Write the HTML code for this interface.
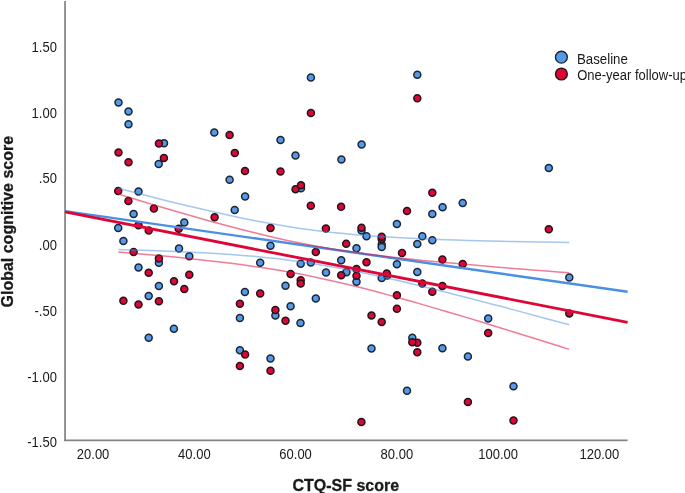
<!DOCTYPE html>
<html><head><meta charset="utf-8"><title>Scatter</title>
<style>
html,body{margin:0;padding:0;background:#fff;}
body{width:685px;height:493px;position:relative;overflow:hidden;font-family:"Liberation Sans",sans-serif;color:#1a1a1a;}
.yl{position:absolute;left:0;width:56.9px;text-align:right;font-size:13px;line-height:15px;height:15px;transform-origin:50% 12px;transform:scale(1,1.14);}
.xl{position:absolute;top:447px;width:60px;text-align:center;font-size:13px;line-height:15px;height:15px;transform-origin:50% 12px;transform:scale(1,1.14);}
.lg{position:absolute;left:577.2px;font-size:13px;line-height:15px;white-space:nowrap;transform-origin:0 12px;transform:scale(1,1.15);}
.xt{position:absolute;left:245.8px;width:200px;text-align:center;top:477px;font-size:16px;font-weight:bold;line-height:18px;white-space:nowrap;transform-origin:50% 3px;transform:scale(1,1.04);-webkit-text-stroke:0.3px #1a1a1a;}
.yt{position:absolute;left:0;top:0;width:200px;height:18px;line-height:18px;text-align:center;font-size:16px;font-weight:bold;white-space:nowrap;transform-origin:0 0;transform:translate(-0.9px,321.7px) rotate(-90deg);-webkit-text-stroke:0.3px #1a1a1a;}
</style></head><body><div id="w" style="position:absolute;left:0;top:0;width:685px;height:493px;will-change:transform;">
<svg width="685" height="493" viewBox="0 0 685 493" style="position:absolute;left:0;top:0">
<g stroke="#1c2633" stroke-width="1.5">
<circle cx="118.5" cy="102.4" r="3.5" fill="#559ae8"/>
<circle cx="128.5" cy="111.4" r="3.5" fill="#559ae8"/>
<circle cx="128.5" cy="124.2" r="3.5" fill="#559ae8"/>
<circle cx="164.0" cy="143.3" r="3.5" fill="#559ae8"/>
<circle cx="158.7" cy="164.1" r="3.5" fill="#559ae8"/>
<circle cx="214.3" cy="132.4" r="3.5" fill="#559ae8"/>
<circle cx="229.6" cy="179.8" r="3.5" fill="#559ae8"/>
<circle cx="310.9" cy="77.5" r="3.5" fill="#559ae8"/>
<circle cx="280.5" cy="140.1" r="3.5" fill="#559ae8"/>
<circle cx="295.5" cy="155.6" r="3.5" fill="#559ae8"/>
<circle cx="341.4" cy="159.6" r="3.5" fill="#559ae8"/>
<circle cx="361.6" cy="144.4" r="3.5" fill="#559ae8"/>
<circle cx="417.3" cy="74.7" r="3.5" fill="#559ae8"/>
<circle cx="548.8" cy="168.1" r="3.5" fill="#559ae8"/>
<circle cx="138.5" cy="191.6" r="3.5" fill="#559ae8"/>
<circle cx="133.6" cy="213.9" r="3.5" fill="#559ae8"/>
<circle cx="118.2" cy="227.9" r="3.5" fill="#559ae8"/>
<circle cx="123.4" cy="241.1" r="3.5" fill="#559ae8"/>
<circle cx="245.1" cy="196.6" r="3.5" fill="#559ae8"/>
<circle cx="234.7" cy="210.0" r="3.5" fill="#559ae8"/>
<circle cx="184.3" cy="222.4" r="3.5" fill="#559ae8"/>
<circle cx="270.5" cy="245.7" r="3.5" fill="#559ae8"/>
<circle cx="179.0" cy="248.4" r="3.5" fill="#559ae8"/>
<circle cx="189.3" cy="256.3" r="3.5" fill="#559ae8"/>
<circle cx="260.2" cy="262.8" r="3.5" fill="#559ae8"/>
<circle cx="301.0" cy="188.3" r="3.5" fill="#559ae8"/>
<circle cx="361.5" cy="230.5" r="3.5" fill="#559ae8"/>
<circle cx="366.5" cy="236.2" r="3.5" fill="#559ae8"/>
<circle cx="381.7" cy="244.4" r="3.5" fill="#559ae8"/>
<circle cx="381.7" cy="247.0" r="3.5" fill="#559ae8"/>
<circle cx="396.9" cy="224.1" r="3.5" fill="#559ae8"/>
<circle cx="356.5" cy="248.3" r="3.5" fill="#559ae8"/>
<circle cx="341.2" cy="260.3" r="3.5" fill="#559ae8"/>
<circle cx="300.7" cy="263.7" r="3.5" fill="#559ae8"/>
<circle cx="310.8" cy="262.5" r="3.5" fill="#559ae8"/>
<circle cx="396.9" cy="264.3" r="3.5" fill="#559ae8"/>
<circle cx="432.3" cy="214.1" r="3.5" fill="#559ae8"/>
<circle cx="442.6" cy="207.3" r="3.5" fill="#559ae8"/>
<circle cx="462.7" cy="203.0" r="3.5" fill="#559ae8"/>
<circle cx="422.3" cy="236.2" r="3.5" fill="#559ae8"/>
<circle cx="432.3" cy="240.2" r="3.5" fill="#559ae8"/>
<circle cx="417.3" cy="243.9" r="3.5" fill="#559ae8"/>
<circle cx="158.9" cy="262.7" r="3.5" fill="#559ae8"/>
<circle cx="138.5" cy="267.6" r="3.5" fill="#559ae8"/>
<circle cx="158.9" cy="286.1" r="3.5" fill="#559ae8"/>
<circle cx="148.7" cy="295.9" r="3.5" fill="#559ae8"/>
<circle cx="173.9" cy="328.7" r="3.5" fill="#559ae8"/>
<circle cx="148.7" cy="337.8" r="3.5" fill="#559ae8"/>
<circle cx="244.9" cy="291.9" r="3.5" fill="#559ae8"/>
<circle cx="239.9" cy="317.9" r="3.5" fill="#559ae8"/>
<circle cx="275.4" cy="315.6" r="3.5" fill="#559ae8"/>
<circle cx="285.5" cy="285.8" r="3.5" fill="#559ae8"/>
<circle cx="290.6" cy="306.3" r="3.5" fill="#559ae8"/>
<circle cx="326.0" cy="272.6" r="3.5" fill="#559ae8"/>
<circle cx="346.4" cy="272.3" r="3.5" fill="#559ae8"/>
<circle cx="356.5" cy="281.8" r="3.5" fill="#559ae8"/>
<circle cx="381.7" cy="277.9" r="3.5" fill="#559ae8"/>
<circle cx="387.2" cy="275.4" r="3.5" fill="#559ae8"/>
<circle cx="315.8" cy="298.6" r="3.5" fill="#559ae8"/>
<circle cx="300.5" cy="323.1" r="3.5" fill="#559ae8"/>
<circle cx="417.3" cy="272.1" r="3.5" fill="#559ae8"/>
<circle cx="488.2" cy="318.4" r="3.5" fill="#559ae8"/>
<circle cx="412.3" cy="337.7" r="3.5" fill="#559ae8"/>
<circle cx="569.3" cy="277.6" r="3.5" fill="#559ae8"/>
<circle cx="239.9" cy="350.3" r="3.5" fill="#559ae8"/>
<circle cx="270.5" cy="358.6" r="3.5" fill="#559ae8"/>
<circle cx="371.5" cy="348.6" r="3.5" fill="#559ae8"/>
<circle cx="442.4" cy="348.3" r="3.5" fill="#559ae8"/>
<circle cx="467.9" cy="356.5" r="3.5" fill="#559ae8"/>
<circle cx="407.0" cy="390.7" r="3.5" fill="#559ae8"/>
<circle cx="513.5" cy="386.2" r="3.5" fill="#559ae8"/>
</g><g stroke="#22141a" stroke-width="1.5">
<circle cx="158.9" cy="143.4" r="3.5" fill="#de0637"/>
<circle cx="118.5" cy="152.6" r="3.5" fill="#de0637"/>
<circle cx="128.5" cy="162.3" r="3.5" fill="#de0637"/>
<circle cx="163.9" cy="157.9" r="3.5" fill="#de0637"/>
<circle cx="229.6" cy="135.1" r="3.5" fill="#de0637"/>
<circle cx="234.8" cy="152.9" r="3.5" fill="#de0637"/>
<circle cx="245.0" cy="171.1" r="3.5" fill="#de0637"/>
<circle cx="310.9" cy="112.9" r="3.5" fill="#de0637"/>
<circle cx="280.5" cy="171.6" r="3.5" fill="#de0637"/>
<circle cx="417.3" cy="98.2" r="3.5" fill="#de0637"/>
<circle cx="118.2" cy="191.0" r="3.5" fill="#de0637"/>
<circle cx="128.4" cy="201.0" r="3.5" fill="#de0637"/>
<circle cx="153.9" cy="208.5" r="3.5" fill="#de0637"/>
<circle cx="138.5" cy="225.3" r="3.5" fill="#de0637"/>
<circle cx="148.7" cy="230.4" r="3.5" fill="#de0637"/>
<circle cx="133.6" cy="252.1" r="3.5" fill="#de0637"/>
<circle cx="158.9" cy="258.4" r="3.5" fill="#de0637"/>
<circle cx="214.6" cy="217.3" r="3.5" fill="#de0637"/>
<circle cx="178.7" cy="228.8" r="3.5" fill="#de0637"/>
<circle cx="270.5" cy="228.1" r="3.5" fill="#de0637"/>
<circle cx="295.5" cy="189.2" r="3.5" fill="#de0637"/>
<circle cx="301.0" cy="185.3" r="3.5" fill="#de0637"/>
<circle cx="310.8" cy="205.8" r="3.5" fill="#de0637"/>
<circle cx="341.1" cy="206.8" r="3.5" fill="#de0637"/>
<circle cx="325.9" cy="228.6" r="3.5" fill="#de0637"/>
<circle cx="361.5" cy="227.7" r="3.5" fill="#de0637"/>
<circle cx="381.7" cy="239.0" r="3.5" fill="#de0637"/>
<circle cx="381.7" cy="236.7" r="3.5" fill="#de0637"/>
<circle cx="346.2" cy="243.7" r="3.5" fill="#de0637"/>
<circle cx="315.8" cy="251.9" r="3.5" fill="#de0637"/>
<circle cx="366.5" cy="262.3" r="3.5" fill="#de0637"/>
<circle cx="402.0" cy="253.1" r="3.5" fill="#de0637"/>
<circle cx="432.3" cy="192.8" r="3.5" fill="#de0637"/>
<circle cx="407.0" cy="211.0" r="3.5" fill="#de0637"/>
<circle cx="442.4" cy="259.4" r="3.5" fill="#de0637"/>
<circle cx="462.7" cy="264.0" r="3.5" fill="#de0637"/>
<circle cx="548.8" cy="229.3" r="3.5" fill="#de0637"/>
<circle cx="148.7" cy="272.8" r="3.5" fill="#de0637"/>
<circle cx="174.0" cy="281.3" r="3.5" fill="#de0637"/>
<circle cx="123.4" cy="300.8" r="3.5" fill="#de0637"/>
<circle cx="138.5" cy="304.6" r="3.5" fill="#de0637"/>
<circle cx="158.9" cy="301.3" r="3.5" fill="#de0637"/>
<circle cx="189.3" cy="274.8" r="3.5" fill="#de0637"/>
<circle cx="184.3" cy="289.0" r="3.5" fill="#de0637"/>
<circle cx="260.2" cy="293.6" r="3.5" fill="#de0637"/>
<circle cx="239.9" cy="303.8" r="3.5" fill="#de0637"/>
<circle cx="275.4" cy="310.1" r="3.5" fill="#de0637"/>
<circle cx="285.5" cy="320.8" r="3.5" fill="#de0637"/>
<circle cx="290.6" cy="274.1" r="3.5" fill="#de0637"/>
<circle cx="300.7" cy="280.3" r="3.5" fill="#de0637"/>
<circle cx="300.7" cy="283.5" r="3.5" fill="#de0637"/>
<circle cx="341.2" cy="275.3" r="3.5" fill="#de0637"/>
<circle cx="356.5" cy="269.1" r="3.5" fill="#de0637"/>
<circle cx="356.5" cy="275.7" r="3.5" fill="#de0637"/>
<circle cx="386.8" cy="273.5" r="3.5" fill="#de0637"/>
<circle cx="396.9" cy="295.3" r="3.5" fill="#de0637"/>
<circle cx="396.9" cy="308.7" r="3.5" fill="#de0637"/>
<circle cx="371.5" cy="315.6" r="3.5" fill="#de0637"/>
<circle cx="381.7" cy="321.9" r="3.5" fill="#de0637"/>
<circle cx="422.3" cy="283.5" r="3.5" fill="#de0637"/>
<circle cx="442.4" cy="286.0" r="3.5" fill="#de0637"/>
<circle cx="432.3" cy="291.8" r="3.5" fill="#de0637"/>
<circle cx="488.2" cy="333.1" r="3.5" fill="#de0637"/>
<circle cx="569.3" cy="313.4" r="3.5" fill="#de0637"/>
<circle cx="245.1" cy="354.5" r="3.5" fill="#de0637"/>
<circle cx="239.9" cy="366.1" r="3.5" fill="#de0637"/>
<circle cx="270.5" cy="370.8" r="3.5" fill="#de0637"/>
<circle cx="417.3" cy="342.8" r="3.5" fill="#de0637"/>
<circle cx="412.3" cy="342.3" r="3.5" fill="#de0637"/>
<circle cx="417.3" cy="352.3" r="3.5" fill="#de0637"/>
<circle cx="467.9" cy="401.9" r="3.5" fill="#de0637"/>
<circle cx="513.5" cy="420.4" r="3.5" fill="#de0637"/>
<circle cx="361.4" cy="422.1" r="3.5" fill="#de0637"/>
</g>
<rect x="64.2" y="1" width="1.7" height="440.2" fill="#828282"/>
<rect x="64.2" y="439.5" width="563.4" height="1.7" fill="#828282"/>
<g fill="none">
<line x1="65.0" y1="211.15" x2="627.6" y2="291.76" stroke="#4a90e2" stroke-width="2.4"/>
<path d="M118.4,188.3 L129.7,191.2 L140.9,194.1 L152.2,197.0 L163.5,199.9 L174.8,202.7 L186.0,205.4 L197.3,208.1 L208.6,210.7 L219.8,213.3 L231.1,215.8 L242.4,218.2 L253.6,220.4 L264.9,222.6 L276.2,224.6 L287.5,226.5 L298.7,228.2 L310.0,229.8 L321.3,231.2 L332.5,232.5 L343.8,233.6 L355.1,234.7 L366.3,235.6 L377.6,236.4 L388.9,237.1 L400.2,237.7 L411.4,238.3 L422.7,238.8 L434.0,239.3 L445.2,239.7 L456.5,240.1 L467.8,240.4 L479.0,240.7 L490.3,241.0 L501.6,241.3 L512.9,241.5 L524.1,241.7 L535.4,241.9 L546.7,242.1 L557.9,242.3 L569.2,242.5" stroke="#4a90e2" stroke-width="1.5" opacity="0.5"/>
<path d="M118.4,249.6 L129.7,249.9 L140.9,250.3 L152.2,250.6 L163.5,251.0 L174.8,251.4 L186.0,251.9 L197.3,252.5 L208.6,253.1 L219.8,253.7 L231.1,254.5 L242.4,255.4 L253.6,256.3 L264.9,257.4 L276.2,258.6 L287.5,260.0 L298.7,261.5 L310.0,263.1 L321.3,264.9 L332.5,266.9 L343.8,269.0 L355.1,271.2 L366.3,273.5 L377.6,275.9 L388.9,278.5 L400.2,281.1 L411.4,283.7 L422.7,286.4 L434.0,289.2 L445.2,292.0 L456.5,294.9 L467.8,297.8 L479.0,300.7 L490.3,303.7 L501.6,306.6 L512.9,309.6 L524.1,312.6 L535.4,315.7 L546.7,318.7 L557.9,321.8 L569.2,324.8" stroke="#4a90e2" stroke-width="1.5" opacity="0.5"/>
<line x1="65.0" y1="211.95" x2="627.6" y2="322.27" stroke="#de0637" stroke-width="2.8"/>
<path d="M118.4,194.1 L129.7,197.5 L140.9,201.0 L152.2,204.4 L163.5,207.7 L174.8,211.0 L186.0,214.3 L197.3,217.5 L208.6,220.7 L219.8,223.8 L231.1,226.8 L242.4,229.8 L253.6,232.6 L264.9,235.3 L276.2,237.9 L287.5,240.4 L298.7,242.7 L310.0,244.9 L321.3,247.0 L332.5,248.9 L343.8,250.7 L355.1,252.3 L366.3,253.9 L377.6,255.3 L388.9,256.7 L400.2,258.0 L411.4,259.2 L422.7,260.4 L434.0,261.5 L445.2,262.6 L456.5,263.6 L467.8,264.6 L479.0,265.6 L490.3,266.5 L501.6,267.5 L512.9,268.4 L524.1,269.3 L535.4,270.2 L546.7,271.0 L557.9,271.9 L569.2,272.8" stroke="#de0637" stroke-width="1.5" opacity="0.52"/>
<path d="M118.4,252.0 L129.7,253.0 L140.9,254.0 L152.2,255.0 L163.5,256.0 L174.8,257.1 L186.0,258.2 L197.3,259.4 L208.6,260.7 L219.8,262.0 L231.1,263.3 L242.4,264.8 L253.6,266.4 L264.9,268.0 L276.2,269.8 L287.5,271.8 L298.7,273.8 L310.0,276.0 L321.3,278.4 L332.5,280.9 L343.8,283.5 L355.1,286.2 L366.3,289.1 L377.6,292.0 L388.9,295.1 L400.2,298.2 L411.4,301.3 L422.7,304.6 L434.0,307.9 L445.2,311.2 L456.5,314.5 L467.8,317.9 L479.0,321.3 L490.3,324.8 L501.6,328.3 L512.9,331.7 L524.1,335.2 L535.4,338.8 L546.7,342.3 L557.9,345.8 L569.2,349.4" stroke="#de0637" stroke-width="1.5" opacity="0.52"/>
</g>
<circle cx="561.4" cy="57.2" r="5.9" fill="#559ae8" stroke="#1c2633" stroke-width="1.4"/>
<circle cx="561.4" cy="74.0" r="5.9" fill="#de0637" stroke="#22141a" stroke-width="1.4"/>
</svg>
<div class="yl" style="top:40px">1.50</div>
<div class="yl" style="top:106px">1.00</div>
<div class="yl" style="top:171px">.50</div>
<div class="yl" style="top:238px">.00</div>
<div class="yl" style="top:304px">-.50</div>
<div class="yl" style="top:370px">-1.00</div>
<div class="yl" style="top:435px">-1.50</div>
<div class="xl" style="left:63.1px">20.00</div>
<div class="xl" style="left:164.4px">40.00</div>
<div class="xl" style="left:265.6px">60.00</div>
<div class="xl" style="left:366.9px">80.00</div>
<div class="xl" style="left:468.1px">100.00</div>
<div class="xl" style="left:569.4px">120.00</div>
<div class="lg" style="top:52px;transform:scale(1.02,1.15)">Baseline</div>
<div class="lg" style="top:68px">One-year follow-up</div>
<div class="xt">CTQ-SF score</div>
<div class="yt">Global cognitive score</div>
</div></body></html>
